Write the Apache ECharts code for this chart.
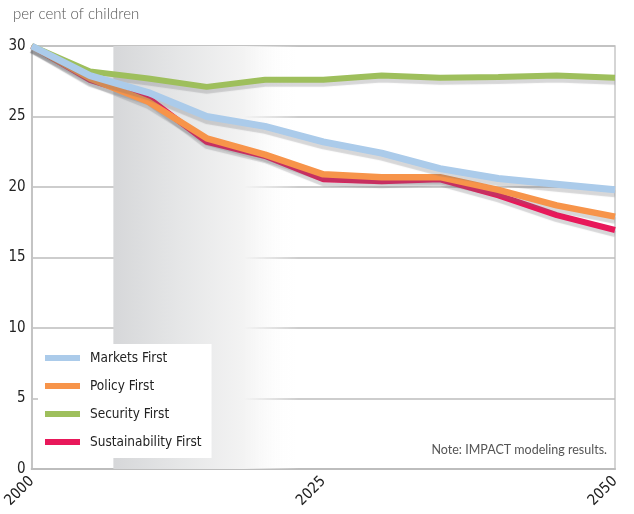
<!DOCTYPE html>
<html><head><meta charset="utf-8">
<script src="https://cdn.jsdelivr.net/npm/echarts@6/dist/echarts.min.js"></script>
<style>html,body{margin:0;padding:0;background:#fff}#c{width:634px;height:514px}</style>
</head><body><div id="c"></div>
<script>
const years = [2000, 2005, 2010, 2015, 2020, 2025, 2030, 2035, 2040, 2045, 2050];
const marketsFirst = [30, 27.9, 26.7, 25.0, 24.3, 23.2, 22.4, 21.3, 20.6, 20.2, 19.8];
const policyFirst = [30, 27.7, 26.05, 23.45, 22.3, 20.9, 20.7, 20.7, 19.8, 18.7, 17.9];
const securityFirst = [30, 28.2, 27.7, 27.1, 27.6, 27.6, 27.9, 27.75, 27.8, 27.9, 27.75];
const sustainabilityFirst = [30, 27.6, 26.3, 23.2, 22.2, 20.55, 20.4, 20.55, 19.4, 18.0, 16.95];
const xTicks = [2000, 2025, 2050];
const yTicks = [0, 5, 10, 15, 20, 25, 30];
const shadeStart = 2007;
const shadeEnd = 2050;

const COND = "'DejaVu Sans Condensed', 'Liberation Sans Narrow', Roboto, sans-serif";
const pairs = arr => years.map((y, i) => [y, arr[i]]);
const chart = echarts.init(document.getElementById('c'), null, {renderer: 'canvas'});
const mkLine = (name, arr, color, w) => ({
  name, type: 'line', data: pairs(arr), symbol: 'none', z: 3,
  lineStyle: {color, width: w, shadowColor: 'rgba(110,110,115,0.28)', shadowBlur: 1, shadowOffsetY: 4, shadowOffsetX: 0},
  itemStyle: {color}
});
chart.setOption({
  animation: false,
  grid: {left: 30, right: 19, top: 46, bottom: 45, show: true, borderColor: '#c8c8c8', borderWidth: 1.5},
  xAxis: {
    type: 'value', min: 2000, max: 2050, interval: 25,
    axisLine: {show: true, lineStyle: {color: '#bdbdbd', width: 2}},
    axisTick: {show: false}, splitLine: {show: false},
    axisLabel: {rotate: 45, color: '#222', fontSize: 15, fontFamily: COND, margin: 10,
      formatter: v => xTicks.includes(v) ? String(v) : ''}
  },
  yAxis: {
    type: 'value', min: 0, max: 30, interval: 5,
    axisLine: {show: true, lineStyle: {color: '#c4c4c4', width: 2}},
    axisTick: {show: false},
    splitLine: {show: true, lineStyle: {color: '#bcbcbc', width: 1.5}},
    axisLabel: {color: '#222', fontSize: 15, fontFamily: COND, margin: 6,
      formatter: v => yTicks.includes(v) ? String(v) : ''}
  },
  legend: {
    orient: 'vertical', left: 38, top: 344, icon: 'rect', itemWidth: 35, itemHeight: 6, itemGap: 12,
    backgroundColor: '#fff', padding: [6, 10, 8, 7],
    data: ['Markets First', 'Policy First', 'Security First', 'Sustainability First'],
    textStyle: {color: '#222', fontSize: 13.5, fontFamily: COND, lineHeight: 16, padding: [0, 0, 0, 5]}
  },
  graphic: [
    {type: 'text', left: 13, top: 7, style: {text: 'per cent of children', fill: '#555', font: '300 15px Lato'}},
    {type: 'text', right: 27, top: 443, style: {text: 'Note: IMPACT modeling results.', fill: '#555', font: '12.5px Lato'}}
  ],
  series: [
    {type: 'line', data: [], silent: true, z: 1,
      markArea: {silent: true, itemStyle: {color: new echarts.graphic.LinearGradient(0, 0, 1, 0, [
        {offset: 0, color: '#d6d7d9'}, {offset: 0.12, color: '#e4e5e6'}, {offset: 0.26, color: '#f3f3f3'}, {offset: 0.37, color: 'rgba(255,255,255,0)'}, {offset: 1, color: 'rgba(255,255,255,0)'}])},
        data: [[{xAxis: shadeStart, yAxis: 0}, {xAxis: shadeEnd, yAxis: 30}]]}},
    mkLine('Sustainability First', sustainabilityFirst, '#e8185a', 6),
    mkLine('Policy First', policyFirst, '#f7944a', 6.5),
    mkLine('Security First', securityFirst, '#9ebf5c', 6),
    mkLine('Markets First', marketsFirst, '#abcbea', 7)
  ]
});
</script></body></html>
